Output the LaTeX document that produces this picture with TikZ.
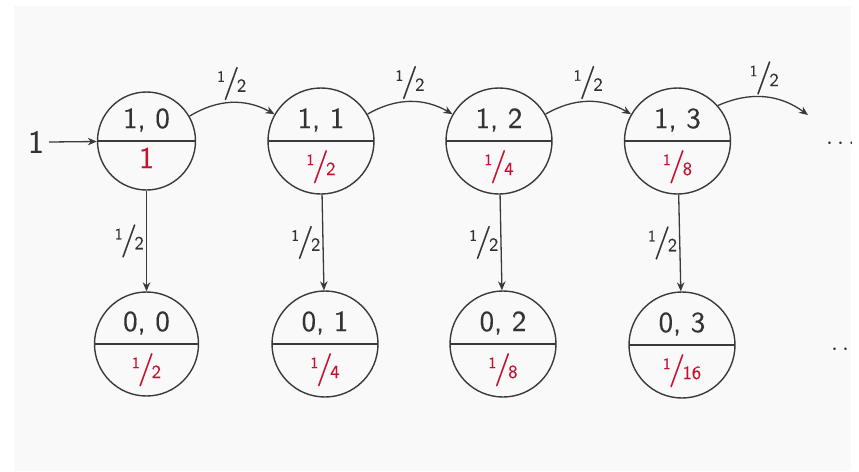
\documentclass[tikz,border=0pt]{standalone}
\usepackage{fontspec}
\setsansfont{lmsans10-regular.otf}[FakeBold=0.35]
\usetikzlibrary{arrows.meta}
\definecolor{panelbg}{HTML}{F9F9F9}
\definecolor{ink}{HTML}{333333}
\definecolor{linec}{HTML}{3A3A3A}
\definecolor{redf}{HTML}{C8102E}
\newcommand{\nfr}[2]{\raisebox{10pt}{\fontsize{15.5}{16}\selectfont #1}\kern-2pt{\fontsize{33}{33}\selectfont/}\kern-2.5pt{\fontsize{18.5}{19}\selectfont #2}}
\begin{document}
\begin{tikzpicture}[x=1pt,y=-1pt,
  font=\sffamily\fontsize{29}{33}\selectfont,
  state/.style={circle, draw=linec, line width=1.4pt, inner sep=0pt, minimum size=106pt,
    path picture={\draw[linec, line width=1.4pt] (path picture bounding box.west) -- (path picture bounding box.east);}},
  toptext/.style={anchor=base, text=ink, inner sep=0pt},
  bottext/.style={anchor=base, text=redf, inner sep=0pt},
  arr/.style={-{Stealth[length=9pt,width=7.5pt]}, draw=linec, line width=1.3pt},
  lab/.style={text=ink, inner sep=2pt}]
\useasboundingbox (0,0) rectangle (859,471);
\fill[white] (0,0) rectangle (859,471);
\fill[panelbg] (14,6) rectangle (851,471);
\begin{scope}
\clip (14,6) rectangle (851,471);
% top row
\node[state, minimum size=98pt] (a0) at (146.5,141) {};
\node[state] (a1) at (321,141) {};
\node[state] (a2) at (499,141) {};
\node[state] (a3) at (677.5,141) {};
% bottom row
\node[state, minimum size=104pt] (b0) at (146.5,344) {};
\node[state] (b1) at (325,344) {};
\node[state] (b2) at (503,344) {};
\node[state] (b3) at (682,345) {};
% texts
\node[toptext] (a0t) at (146.5,128) {1, 0};
\node[bottext, font=\sffamily\fontsize{30}{33}\selectfont] (a0b) at (146.5,168) {1};
\node[toptext] (a1t) at (321,128) {1, 1};
\node[bottext] (a1b) at (321,175) {\nfr{1}{2}};
\node[toptext] (a2t) at (499,128) {1, 2};
\node[bottext] (a2b) at (499,175) {\nfr{1}{4}};
\node[toptext] (a3t) at (677.5,128) {1, 3};
\node[bottext] (a3b) at (677.5,175) {\nfr{1}{8}};
\node[toptext] (b0t) at (146.5,331) {0, 0};
\node[bottext] (b0b) at (146.5,378) {\nfr{1}{2}};
\node[toptext] (b1t) at (325,331) {0, 1};
\node[bottext] (b1b) at (325,378) {\nfr{1}{4}};
\node[toptext] (b2t) at (503,331) {0, 2};
\node[bottext] (b2b) at (503,378) {\nfr{1}{8}};
\node[toptext] (b3t) at (682,332) {0, 3};
\node[bottext] (b3b) at (682,379) {\nfr{1}{16}};
% input
\node[text=ink, inner sep=0pt, font=\sffamily\fontsize{32}{34}\selectfont] (in) at (36,142) {1};
\draw[arr] (in.east) ++(5,0) coordinate (ins) (ins) -- (a0);
% horizontal arrows
\coordinate (e) at (808,115);
\draw[arr] (a0) to[bend left=30] node[lab, above] (h0) {\nfr{1}{2}} (a1);
\draw[arr] (a1) to[bend left=30] node[lab, above] (h1) {\nfr{1}{2}} (a2);
\draw[arr] (a2) to[bend left=30] node[lab, above] (h2) {\nfr{1}{2}} (a3);
\draw[arr] (a3) to[bend left=30] node[lab, above] (h3) {\nfr{1}{2}} (e);
% vertical arrows
\draw[arr] (a0) -- node[lab, left] (v0) {\nfr{1}{2}} (b0);
\draw[arr] (a1) -- node[lab, left] (v1) {\nfr{1}{2}} (b1);
\draw[arr] (a2) -- node[lab, left] (v2) {\nfr{1}{2}} (b2);
\draw[arr] (a3) -- node[lab, left] (v3) {\nfr{1}{2}} (b3);
% dots
\node[text=ink, inner sep=0pt, anchor=west] (d1) at (826,144) {$\cdots$};
\node[text=ink, inner sep=0pt, anchor=west] (d2) at (831,350) {$\cdots$};
\end{scope}
\end{tikzpicture}
\end{document}
